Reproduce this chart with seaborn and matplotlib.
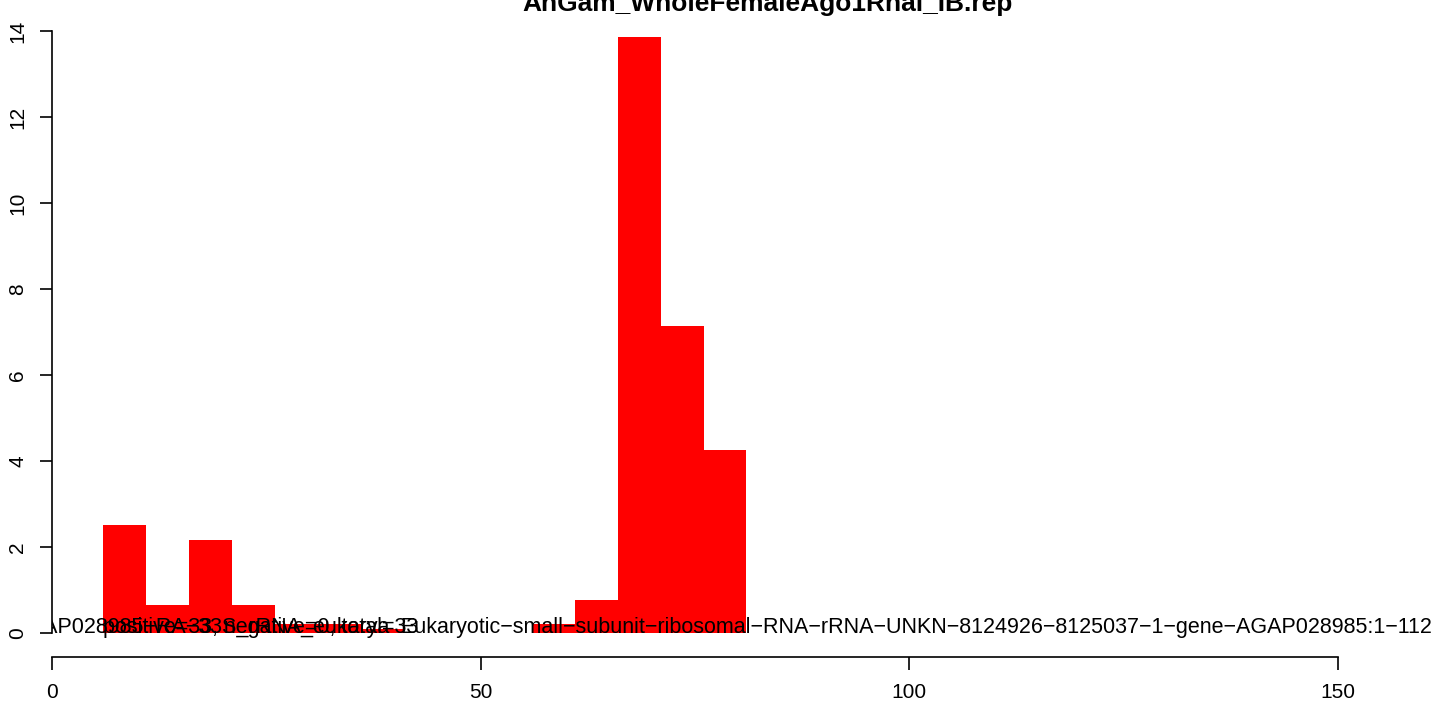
import matplotlib
matplotlib.use("Agg")
import matplotlib.pyplot as plt
import numpy as np
import pandas as pd
import seaborn as sns

# ---- data ----
title = "AnGam_WholeFemaleAgo1Rnai_IB.rep"
bin_centers = [8.5, 13.5, 18.5, 23.5, 28.5, 33.5, 38.5, 43.5, 48.5, 53.5,
               58.5, 63.5, 68.5, 73.5, 78.5]
coverage = [2.51, 0.65, 2.16, 0.65, 0.2, 0.2, 0.1, 0.0, 0.0, 0.0,
            0.2, 0.77, 13.86, 7.14, 4.26]
x_ticks = [0, 50, 100, 150]
y_ticks = [0, 2, 4, 6, 8, 10, 12, 14]
label_texts = [
    "AGAP028985\u2212RA\u221233S_rRNA_eukarya",
    "positive=33, negative=0, total=33",
    "Eukaryotic\u2212small\u2212subunit\u2212ribosomal\u2212RNA\u2212rRNA\u2212UNKN\u22128124926\u22128125037\u22121\u2212gene\u2212AGAP028985:1\u2212112",
]
label_x = [-4.55, 6.0, 40.6]

sns.set_theme(style="white")
plt.rcParams["font.family"] = ["Liberation Sans", "DejaVu Sans"]

W, H = 1444, 709
fig = plt.figure(figsize=(W / 100, H / 100), dpi=100)
ax = fig.add_axes([52 / W, 52 / H, (1440 - 52) / W, (702 - 52) / H])

df = pd.DataFrame({"pos": bin_centers, "cov": coverage})
sns.barplot(data=df, x="pos", y="cov", native_scale=True, orient="x",
            width=1.0, color="#ff0000", saturation=1, errorbar=None,
            linewidth=0, edgecolor="none", ax=ax)

ax.set_xlim(0, (1440 - 52) / 8.573)
ax.set_ylim(-0.56, 14.56)
ax.set_xlabel("")
ax.set_ylabel("")

for s in ["top", "right"]:
    ax.spines[s].set_visible(False)
for s in ["left", "bottom"]:
    ax.spines[s].set_color("black")
    ax.spines[s].set_linewidth(1.2)
ax.spines["left"].set_bounds(0, 14)
ax.spines["bottom"].set_bounds(0, 150)

ax.set_xticks(x_ticks)
ax.set_xticklabels([str(v) for v in x_ticks])
ax.set_yticks(y_ticks)
ax.set_yticklabels([str(v) for v in y_ticks])
ax.tick_params(axis="both", direction="out", length=9, width=1.2,
               colors="black", labelsize=15, left=True, bottom=True)
ax.tick_params(axis="x", pad=10)
ax.tick_params(axis="y", pad=9)
for lab in ax.get_yticklabels():
    lab.set_rotation(90)
    lab.set_va("center")

for txt, xx in zip(label_texts, label_x):
    ax.text(xx, 0, txt, ha="left", va="baseline", fontsize=15.5,
            color="black", clip_on=True)

fig.text(768 / W, 1 - 11 / H, title, ha="center", va="baseline",
         fontsize=19, fontweight="bold", color="black")

fig.savefig("out.png", dpi=100)
